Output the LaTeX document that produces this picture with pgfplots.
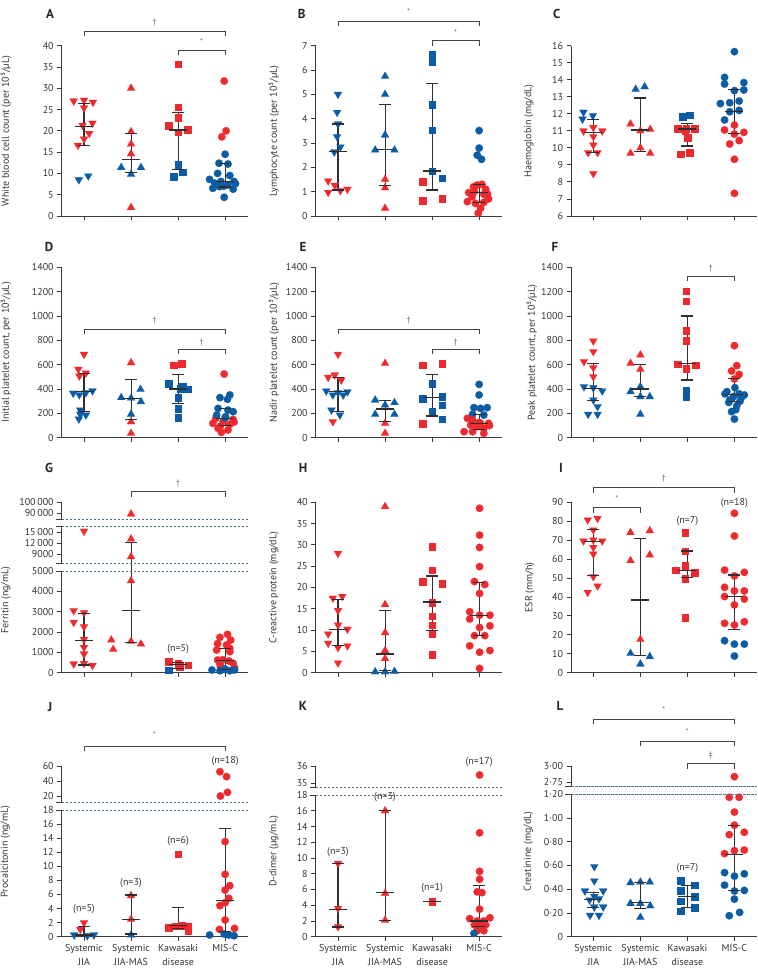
\documentclass[border=0pt]{standalone}
\usepackage{fontspec}
\setmainfont{PT Sans}
\usepackage{pgfplots}
\pgfplotsset{compat=1.18}
\definecolor{myred}{HTML}{EE2A2E}
\definecolor{myblue}{HTML}{0B5CA5}
\definecolor{axc}{HTML}{3A3A3A}
\definecolor{lc}{HTML}{2E2E2E}
\definecolor{dashc}{HTML}{4F7186}
\definecolor{txtc}{HTML}{333333}
\definecolor{sigc}{HTML}{666666}
\definecolor{brc}{HTML}{444444}
\pgfplotsset{
  /pgf/number format/assume math mode=true,
  /pgf/number format/1000 sep={},
  ax/.style={scale only axis, width=186pt, xmin=-0.475, xmax=3.48, clip=false, enlargelimits=false,
    scaled y ticks=false, scaled x ticks=false,
    axis y line*=left, tick align=outside, major tick length=4.5pt,
    tick style={draw=axc, line width=0.9pt}, axis line style={draw=axc, line width=0.9pt},
    yticklabel style={font=\fontsize{10}{12}\selectfont, text=txtc},
    xticklabel style={font=\fontsize{10}{13.5}\selectfont, text=txtc, align=center},
    anchor=south west},
  low/.style={ax, axis x line*=bottom, xtick={0,1,2,3}, xticklabels={,,,}},
  hi/.style={ax, axis x line=none, xtick=\empty},
  rdn/.style={only marks, mark=triangle*, mark size=4.6pt, mark options={rotate=180, fill=myred, draw=myred, line width=0.1pt}},
  bdn/.style={only marks, mark=triangle*, mark size=4.6pt, mark options={rotate=180, fill=myblue, draw=myblue, line width=0.1pt}},
  rup/.style={only marks, mark=triangle*, mark size=4.6pt, mark options={fill=myred, draw=myred, line width=0.1pt}},
  bup/.style={only marks, mark=triangle*, mark size=4.6pt, mark options={fill=myblue, draw=myblue, line width=0.1pt}},
  rsq/.style={only marks, mark=square*, mark size=3.4pt, mark options={fill=myred, draw=myred, line width=0.1pt}},
  bsq/.style={only marks, mark=square*, mark size=3.4pt, mark options={fill=myblue, draw=myblue, line width=0.1pt}},
  rci/.style={only marks, mark=*, mark size=3.8pt, mark options={fill=myred, draw=myred, line width=0.1pt}},
  bci/.style={only marks, mark=*, mark size=3.8pt, mark options={fill=myblue, draw=myblue, line width=0.1pt}},
  vline/.style={color=lc, line width=1.1pt, mark=none},
  cap/.style={only marks, mark=-, mark size=6pt, color=lc, mark options={line width=1.1pt}},
  medm/.style={only marks, mark=-, mark size=9pt, color=lc, mark options={line width=1.1pt}},
}
\newcommand\mi[4]{\addplot[vline] coordinates {(#1,#2) (#1,#4)};\addplot[cap] coordinates {(#1,#2) (#1,#4)};\addplot[medm] coordinates {(#1,#3)};}
\newcommand\brk[5]{\draw[draw=brc, line width=0.9pt] (#1,{968-#3-5.5}) -- (#1,{968-#3}) -- (#2,{968-#3}) -- (#2,{968-#3-5.5});
  \node[font=\fontsize{8}{8}\selectfont, text=sigc] at ({(#1+#2)/2},{968-#4}) {#5};}
\newcommand\dl[3]{\draw[dashc, line width=0.8pt, dash pattern=on 2.5pt off 1.5pt] (#1,{968-#2}) -- ({#1+#3},{968-#2});
  \draw[axc, line width=0.9pt] ({#1-6},{968-#2}) -- (#1,{968-#2});}
\newcommand\yl[3]{\node[rotate=90, font=\fontsize{10}{12}\selectfont, text=txtc] at (#1,{968-#2}) {#3};}
\newcommand\pl[3]{\node[font=\bfseries\fontsize{13}{13}\selectfont, text=black!85] at (#1,{968-#2}) {#3};}
\newcommand\nn[3]{\node[font=\fontsize{10}{12}\selectfont, text=txtc] at (#1,{968-#2}) {#3};}
\begin{document}
\begin{tikzpicture}[x=1pt,y=1pt]
\useasboundingbox (0,0) rectangle (757,968);
% ---------- A
\begin{axis}[low, at={(61.7pt,752pt)}, height=170.3pt, ymin=0, ymax=40, ytick={0,5,...,40}]
\addplot[rdn] coordinates {(-0.22,27.0) (0,27.2) (0.19,26.7) (0,25.4) (0.18,21.8) (-0.03,21.3) (0.11,19.4) (0,18.1) (-0.13,16.6)};
\addplot[bdn] coordinates {(-0.11,8.5) (0.09,9.4)};
\addplot[rup] coordinates {(1,30.0) (1,19.8) (1,16.9) (1,14.6) (1,2.0)};
\addplot[bup] coordinates {(0.79,11.4) (1.21,11.4) (1,9.8)};
\addplot[rsq] coordinates {(2,35.7) (2,25.6) (2,23.1) (1.8,21.3) (2,19.7) (2.2,20.3)};
\addplot[bsq] coordinates {(2,12.1) (1.9,9.2) (2.1,10.3)};
\addplot[rci] coordinates {(2.98,31.7) (3.02,20.0) (2.93,18.6)};
\addplot[bci] coordinates {(3,14.5) (2.87,12.4) (3.06,12.2) (2.84,10.0) (3.1,9.5) (2.67,8.6) (2.78,7.7) (2.91,8.1) (3.19,8.1) (2.74,6.5) (2.88,6.9) (3.06,7.3) (3.17,6.3) (2.98,4.4) (3.22,7.6) (2.97,7.0)};
\mi{0}{16.5}{21.1}{26.4}\mi{1}{10.2}{13.2}{19.4}\mi{2}{11.0}{20.2}{24.3}\mi{3}{6.8}{8.2}{12.4}
\end{axis}
% ---------- B
\begin{axis}[low, at={(315.7pt,752pt)}, height=170.3pt, ymin=0, ymax=7, ytick={0,...,7}]
\addplot[bdn] coordinates {(0,5.0) (-0.02,4.26) (0,3.78) (-0.02,3.26) (0.05,2.84) (-0.08,2.63)};
\addplot[rdn] coordinates {(-0.21,1.44) (-0.07,1.26) (-0.21,0.97) (0.05,1.04) (0.2,1.10)};
\addplot[bup] coordinates {(1,5.74) (1,5.0) (1,3.33) (0.79,2.71) (1.2,2.71)};
\addplot[rup] coordinates {(1,1.51) (1,1.16) (1,0.32)};
\addplot[bsq] coordinates {(2,6.64) (2,6.33) (2,4.59) (2,3.53) (2,1.85) (2.21,1.56)};
\addplot[rsq] coordinates {(1.8,1.41) (1.8,0.63) (2.21,0.73)};
\addplot[bci] coordinates {(3,3.51) (3,2.79) (2.96,2.5) (3.05,2.33)};
\addplot[rci] coordinates {(2.78,0.96) (2.96,1.27) (3.06,1.30) (3.14,1.1) (2.85,0.79) (3.1,0.89) (2.75,0.59) (2.92,0.52) (3.1,0.56) (3.03,0.32) (2.98,0.11) (2.88,1.20) (3.2,0.7) (2.9,1.0) (3.18,0.9)};
\mi{0}{1.07}{2.64}{3.78}\mi{1}{1.27}{2.74}{4.6}\mi{2}{1.07}{1.85}{5.45}\mi{3}{0.56}{0.96}{1.3}
\end{axis}
% ---------- C
\begin{axis}[low, at={(571pt,752pt)}, height=170.3pt, ymin=6, ymax=16, ytick={6,...,16}]
\addplot[bdn] coordinates {(-0.21,12.09) (-0.01,11.89) (-0.23,11.69)};
\addplot[rdn] coordinates {(-0.21,10.99) (0,11.2) (0.19,10.99) (0,10.66) (0,10.17) (-0.11,9.72) (0.09,9.72) (0,8.49)};
\addplot[bup] coordinates {(0.9,13.44) (1.09,13.59)};
\addplot[rup] coordinates {(0.79,11.4) (1,11.0) (1.21,11.09) (1,10.0) (0.79,9.68) (1.21,9.68)};
\addplot[bsq] coordinates {(1.9,11.83) (2.05,11.93)};
\addplot[rsq] coordinates {(1.79,11.15) (1.97,11.15) (2.16,11.15) (2.0,10.6) (1.86,9.64) (2.04,9.72) (1.95,11.0)};
\addplot[bci] coordinates {(3,15.65) (2.79,14.14) (2.79,13.75) (3.2,13.83) (3,13.36) (3.2,13.4) (2.7,12.6) (2.9,12.65) (3.1,12.75) (2.9,12.12) (3.1,12.2) (2.79,11.64)};
\addplot[rci] coordinates {(3,11.34) (2.79,11.05) (3,10.81) (3.2,10.91) (2.9,10.23) (3.1,10.43) (3,9.33) (3,7.33)};
\mi{0}{9.72}{10.91}{11.64}\mi{1}{9.78}{11.05}{12.93}\mi{2}{10.11}{11.11}{11.44}\mi{3}{10.85}{12.13}{13.44}
\end{axis}
% ---------- D
\begin{axis}[low, at={(61.7pt,530.3pt)}, height=170.4pt, ymin=0, ymax=1400, ytick={0,200,...,1400}]
\addplot[rdn] coordinates {(0,685) (-0.12,562) (0.04,531) (-0.1,507)};
\addplot[bdn] coordinates {(-0.23,365) (-0.1,352) (0.04,370) (0.18,385) (-0.08,227) (-0.08,192) (0.04,186) (-0.11,153)};
\addplot[rup] coordinates {(1,616) (1,131) (1,36)};
\addplot[bup] coordinates {(0.79,329) (1.2,397) (1.21,296) (1,192) (1,325)};
\addplot[rsq] coordinates {(1.91,597) (2.08,611)};
\addplot[bsq] coordinates {(1.8,447) (2.05,405) (2.21,400) (2,329) (2,241) (2,164) (2.1,420)};
\addplot[rci] coordinates {(2.98,523) (2.8,159) (3.17,150) (2.96,135) (3.19,128) (2.74,118) (3.1,110) (2.9,95) (2.85,77) (3.06,63) (2.92,44)};
\addplot[bci] coordinates {(3.1,351) (3.05,315) (2.89,329) (2.85,241) (3.06,227) (3.17,214) (2.82,186) (3.01,173) (3.0,162)};
\mi{0}{214}{378}{531}\mi{1}{151}{320}{477}\mi{2}{282}{400}{520}\mi{3}{100}{160}{240}
\end{axis}
% ---------- E
\begin{axis}[low, at={(315.7pt,530.3pt)}, height=170.4pt, ymin=0, ymax=1400, ytick={0,200,...,1400}]
\addplot[rdn] coordinates {(0,685) (-0.21,496) (-0.07,515) (0.07,474) (-0.11,131)};
\addplot[bdn] coordinates {(-0.25,384) (-0.11,351) (0.0,370) (0.11,351) (0.2,377) (-0.14,227) (0.04,186)};
\addplot[rup] coordinates {(1,611) (1,118) (1,36)};
\addplot[bup] coordinates {(0.79,310) (1.0,268) (1.2,288) (0.79,192) (1.2,192)};
\addplot[rsq] coordinates {(1.8,597) (2.21,611) (1.8,118)};
\addplot[bsq] coordinates {(2,447) (1.8,323) (2.21,337) (2.21,268) (2,214) (2.21,153)};
\addplot[bci] coordinates {(3,438) (3,351) (2.89,247) (3.03,241) (3.17,247) (2.86,192) (3.1,186)};
\addplot[rci] coordinates {(2.75,159) (2.86,145) (3.03,118) (3.2,118) (2.96,90) (3.1,77) (2.68,49) (2.86,49) (3.1,36) (2.82,104) (3.0,125) (3.22,100)};
\mi{0}{214}{378}{493}\mi{1}{131}{236}{304}\mi{2}{178}{329}{520}\mi{3}{70}{118}{190}
\end{axis}
% ---------- F
\begin{axis}[low, at={(571pt,530.3pt)}, height=170.4pt, ymin=0, ymax=1400, ytick={0,200,...,1400}]
\addplot[rdn] coordinates {(0,795) (0,707) (-0.2,625) (0,575) (0,501)};
\addplot[bdn] coordinates {(-0.2,419) (0,410) (0.19,384) (0,310) (0.09,255) (-0.11,192) (0.09,192)};
\addplot[rup] coordinates {(0.79,611) (1,680) (1,562)};
\addplot[bup] coordinates {(1,419) (0.79,378) (1,337) (1.2,337) (1,192)};
\addplot[rsq] coordinates {(1.97,1205) (1.97,1123) (1.97,877) (1.97,800) (1.79,605) (1.97,570) (2.18,597)};
\addplot[bsq] coordinates {(1.97,392) (1.97,337)};
\addplot[rci] coordinates {(3,756) (3.05,592) (2.94,548) (3.1,520) (3,482)};
\addplot[bci] coordinates {(3.01,411) (2.84,378) (3.21,351) (2.98,337) (3.1,360) (2.9,310) (3.05,263) (2.94,214) (3,153) (2.8,360) (3.15,330) (2.88,290) (3.12,300) (3.03,230)};
\mi{0}{304}{405}{611}\mi{1}{337}{400}{600}\mi{2}{474}{611}{1000}\mi{3}{300}{355}{487}
\end{axis}
% ---------- G (broken)
\begin{axis}[low, at={(61.7pt,295.3pt)}, height=101.7pt, ymin=0, ymax=5000, ytick={0,1000,...,5000}]
\addplot[rdn] coordinates {(-0.22,3050) (0,2950) (-0.22,2475) (0,2262) (0,1639) (0,1246) (0,918) (-0.22,426) (0,459) (0.18,360)};
\addplot[rup] coordinates {(1,4524) (0.58,1606) (0.62,1147) (1,1541) (1.21,1410)};
\addplot[rsq] coordinates {(1.8,541) (2,459) (2.21,377) (2.03,295)};
\addplot[bsq] coordinates {(1.8,131)};
\addplot[rci] coordinates {(3.05,1885) (2.89,1737) (3.12,1606) (2.84,1426) (3.03,1360) (2.82,1115) (3.1,1196) (3.1,1033) (2.84,623) (3.08,574) (2.89,426) (3.17,459) (2.95,640) (2.9,300) (3.2,250)};
\addplot[bci] coordinates {(2.72,131) (2.89,98) (3.1,98) (3.2,131) (3.0,180)};
\mi{0}{377}{1573}{2901}\mi{2}{200}{410}{500}\mi{3}{170}{606}{1196}
\addplot[vline] coordinates {(1,1491) (1,5381)};
\addplot[cap] coordinates {(1,1491)};
\addplot[medm] coordinates {(1,3065)};
\end{axis}
\begin{axis}[hi, at={(61.7pt,404.7pt)}, height=37pt, ymin=6545, ymax=16636, ytick={9000,12000,15000}, yticklabels={9000,12\,000,15\,000}]
\addplot[rdn] coordinates {(0,15300)};
\addplot[rup] coordinates {(1,13170) (1,8350)};
\addplot[vline] coordinates {(1,6545) (1,12270)};
\addplot[cap] coordinates {(1,12270)};
\end{axis}
\begin{axis}[hi, at={(61.7pt,448.7pt)}, height=17pt, ymin=84545, ymax=100000, ytick={90000,100000}, yticklabels={90\,000,100\,000}]
\addplot[rup] coordinates {(1,89400)};
\end{axis}
% ---------- H
\begin{axis}[low, at={(315.7pt,295.3pt)}, height=170.4pt, ymin=0, ymax=40, ytick={0,5,...,40}]
\addplot[rdn] coordinates {(0,28.0) (-0.11,17.5) (0.09,17.9) (0,14.6) (0,11.2) (-0.21,9.1) (0.2,10.2) (-0.21,6.9) (0,5.9) (0.2,6.3) (0,2.3)};
\addplot[rup] coordinates {(1,39.0) (1,16.0) (1,9.4) (1,5.2) (1,3.3)};
\addplot[bup] coordinates {(0.79,0.2) (1,0.2) (1.2,0.3)};
\addplot[rsq] coordinates {(2,29.6) (2,24.1) (1.8,21.4) (2.21,21.0) (2,16.5) (2,13.3) (2,11.2) (2,9.1) (2,4.2)};
\addplot[rci] coordinates {(3.01,38.6) (3.01,32.3) (3.01,29.4) (3.01,24.9) (2.9,21.4) (3.12,20.7) (3.01,18.6) (2.8,14.3) (2.8,12.6) (3.01,13.5) (3.23,13.5) (3.01,10.6) (3.23,11.0) (2.9,8.7) (3.12,8.7) (2.8,6.3) (3.01,4.8) (3.23,5.2) (3.01,1.0)};
\mi{0}{6.3}{10.2}{17.1}\mi{1}{0.5}{4.4}{14.5}\mi{2}{10.0}{16.6}{22.7}\mi{3}{8.7}{13.5}{21.1}
\end{axis}
% ---------- I
\begin{axis}[low, at={(571pt,295.3pt)}, height=170.4pt, ymin=0, ymax=90, ytick={0,10,...,90}]
\addplot[rdn] coordinates {(-0.12,80.7) (0.09,81.5) (0,75.4) (0,70.1) (-0.21,69.6) (0.19,69.6) (0,66.2) (0,62.7) (0,50.7) (0.09,45.8) (-0.12,42.4)};
\addplot[rup] coordinates {(0.79,74.0) (1.2,75.0) (0.79,59.2) (1.2,62.2) (1,17.6)};
\addplot[bup] coordinates {(0.79,10.2) (1.2,8.5) (1,4.6)};
\addplot[rsq] coordinates {(1.95,74.0) (1.95,64.3) (1.95,56.4) (1.75,54.2) (2.16,53.0) (1.95,49.8) (1.95,29.1)};
\addplot[rci] coordinates {(3,84.2) (3,72.2) (2.79,54.2) (3.21,53.0) (3,51.1) (2.79,45.1) (3,43.2) (3.21,43.2) (2.79,40.2) (3.21,38.9) (3,35.8) (2.79,26.1) (3.21,26.9) (3,25.2)};
\addplot[bci] coordinates {(2.79,16.9) (3,15.1) (3.21,15.1) (3,8.8)};
\mi{0}{51.1}{69.2}{75.4}\mi{1}{9.3}{38.4}{71.0}\mi{2}{50.2}{54.2}{64.3}\mi{3}{22.9}{40.2}{51.6}
\end{axis}
% ---------- J (broken)
\begin{axis}[low, at={(61.7pt,31.3pt)}, height=126.7pt, ymin=0, ymax=18, ytick={0,2,...,18},
  xticklabels={Systemic\\JIA, Systemic\\JIA-MAS, Kawasaki\\disease, MIS-C}]
\addplot[rdn] coordinates {(0,1.99) (-0.08,1.04)};
\addplot[bdn] coordinates {(-0.21,0.24) (0.07,0.14) (0.21,0.24)};
\addplot[rup] coordinates {(1,5.83) (1,2.46)};
\addplot[bup] coordinates {(1,0.24)};
\addplot[rsq] coordinates {(2,11.75) (1.8,1.28) (1.95,1.5) (2.08,1.6) (2.21,1.5) (2.21,0.85)};
\addplot[rci] coordinates {(3,13.5) (3,8.86) (3,6.63) (3.1,7.25) (3.08,5.45) (2.89,4.41) (3,4.83) (3,2.37) (2.88,1.04) (3.2,1.18)};
\addplot[bci] coordinates {(2.67,0.24) (2.98,0.38) (3.08,0.24) (3.19,0.14)};
\mi{0}{0.14}{0.24}{1.42}\mi{1}{0.38}{2.46}{5.92}\mi{2}{1.2}{1.56}{4.17}\mi{3}{0.8}{5.14}{15.4}
\end{axis}
\begin{axis}[hi, at={(61.7pt,165.3pt)}, height=36.7pt, ymin=11.1, ymax=60, ytick={20,40,60}]
\addplot[rci] coordinates {(2.89,52.4) (3.03,45.8) (2.9,20.0) (3.05,24.9)};
\end{axis}
% ---------- K (broken)
\begin{axis}[low, at={(315.7pt,31.3pt)}, height=141.7pt, ymin=0, ymax=18, ytick={0,2,...,18},
  xticklabels={Systemic\\JIA, Systemic\\JIA-MAS, Kawasaki\\disease, MIS-C}]
\addplot[rdn] coordinates {(0,9.32) (0,3.6) (0,1.27)};
\addplot[rup] coordinates {(1,16.0) (1,5.5) (1,2.1)};
\addplot[rsq] coordinates {(2,4.45)};
\addplot[rci] coordinates {(3.01,13.2) (3.01,8.3) (3.01,7.3) (2.96,5.7) (3.06,5.6) (3.01,3.5) (2.8,2.3) (2.96,2.0) (3.1,2.0) (3.23,2.4) (2.9,1.5) (3.03,1.3) (3.14,1.5) (2.96,0.76) (3.1,0.76)};
\addplot[bci] coordinates {(2.89,0.42)};
\mi{0}{1.23}{3.5}{9.32}\mi{1}{2.1}{5.6}{16.0}\mi{3}{1.27}{2.0}{6.5}
\addplot[medm] coordinates {(2,4.45)};
\end{axis}
\begin{axis}[hi, at={(315.7pt,180.7pt)}, height=21.3pt, ymin=34.77, ymax=36, ytick={35,36}]
\addplot[rci] coordinates {(3.01,35.48)};
\end{axis}
% ---------- L (broken)
\begin{axis}[low, at={(571pt,31.3pt)}, height=142.4pt, ymin=0, ymax=1.2, ytick={0,0.2,0.4,0.6,0.8,1.0,1.2},
  yticklabels={0,0·20,0·40,0·60,0·80,1·00,1·20},
  xticklabels={Systemic\\JIA, Systemic\\JIA-MAS, Kawasaki\\disease, MIS-C}]
\addplot[bdn] coordinates {(0.02,0.59) (0.02,0.47) (-0.18,0.385) (0.21,0.385) (0.02,0.34) (-0.08,0.31) (0.12,0.32) (0.02,0.25) (0.21,0.25) (-0.07,0.18) (0.12,0.18)};
\addplot[bup] coordinates {(0.79,0.455) (1,0.46) (1.2,0.46) (0.79,0.28) (1.0,0.28) (1.21,0.26) (1,0.163)};
\addplot[bsq] coordinates {(1.86,0.47) (2.16,0.435) (1.86,0.39) (2.16,0.34) (1.86,0.30) (2.16,0.245) (1.86,0.216)};
\addplot[rci] coordinates {(2.89,1.175) (3.1,1.175) (3,1.05) (3,0.94) (2.89,0.86) (3.21,0.88) (2.79,0.70) (3,0.725) (3.21,0.73)};
\addplot[bci] coordinates {(2.79,0.54) (3,0.51) (3.21,0.53) (2.79,0.435) (3,0.385) (3.21,0.39) (3,0.317) (3.11,0.205) (2.89,0.177)};
\mi{0}{0.245}{0.315}{0.374}\mi{1}{0.236}{0.29}{0.46}\mi{2}{0.245}{0.34}{0.43}\mi{3}{0.39}{0.69}{0.94}
\end{axis}
\begin{axis}[hi, at={(571pt,181.3pt)}, height=20.7pt, ymin=2.683, ymax=3.0, ytick={2.75,3}, yticklabels={2·75,3·00}]
\addplot[rci] coordinates {(3,2.836)};
\end{axis}
% ---------- break lines
\dl{61.7}{519.3}{186}\dl{61.7}{526.3}{186}\dl{61.7}{563.3}{186}\dl{61.7}{571}{186}
\dl{61.7}{802.7}{186}\dl{61.7}{810}{186}
\dl{315.7}{787.3}{186}\dl{315.7}{795}{186}
\dl{571}{786.7}{186}\dl{571}{794.3}{186}
% ---------- brackets
\brk{84}{225.1}{31}{22.7}{†}\brk{178.1}{225.1}{50}{41.7}{*}
\brk{338}{479.1}{21}{11.7}{*}\brk{432.1}{479.1}{40.7}{32.7}{*}
\brk{84}{225.1}{329}{321}{†}\brk{178.1}{225.1}{349}{342.3}{†}
\brk{338}{479.1}{329}{321}{†}\brk{432.1}{479.1}{349}{342.3}{†}
\brk{687.4}{734.4}{276}{268.3}{†}
\brk{131}{225.1}{491.7}{483.3}{†}
\brk{593.3}{734.4}{487.7}{478.3}{†}\brk{593.3}{640.3}{507.3}{498.3}{*}
\brk{84}{225.1}{746}{734.3}{*}
\brk{593.3}{734.4}{719}{709.3}{*}\brk{640.3}{734.4}{741}{731.7}{*}\brk{687.4}{734.4}{763.3}{756}{‡}
% ---------- n labels
\nn{178.1}{649.3}{(n=5)}
\nn{687.4}{521}{(n=7)}\nn{734.4}{502.7}{(n=18)}
\nn{84}{909.3}{(n=5)}\nn{131}{882.7}{(n=3)}\nn{178.1}{840.7}{(n=6)}\nn{225.1}{761}{(n=18)}
\nn{338}{851.7}{(n=3)}\nn{385}{797}{(n=3)}\nn{432.1}{888.3}{(n=1)}\nn{479.1}{761.7}{(n=17)}
\nn{687.4}{868.3}{(n=7)}
% ---------- y labels
\yl{6}{131}{White blood cell count (per 10³/µL)}
\yl{274}{131}{Lymphocyte count (per 10³/µL)}
\yl{529}{131}{Haemoglobin (mg/dL)}
\yl{6}{352.5}{Initial platelet count, per 10³/µL)}
\yl{274}{352.5}{Nadir platelet count (per 10³/µL)}
\yl{532}{352.5}{Peak platelet count, per 10³/µL)}
\yl{6}{600}{Ferritin (ng/mL)}
\yl{274}{587.5}{C-reactive protein (mg/dL)}
\yl{530}{587.5}{ESR (mm/h)}
\yl{5.5}{851.4}{Procalcitonin (ng/mL)}
\yl{274}{851.4}{D-dimer (µg/mL)}
\yl{528.5}{851.4}{Creatinine (mg/dL)}
% ---------- panel letters
\pl{50}{14}{A}\pl{301.7}{14}{B}\pl{556.7}{14}{C}
\pl{49}{247.3}{D}\pl{303}{247.3}{E}\pl{555}{247.3}{F}
\pl{49}{468}{G}\pl{303}{468.3}{H}\pl{561}{468}{I}
\pl{50}{706.7}{J}\pl{303}{706}{K}\pl{560}{706}{L}
\end{tikzpicture}
\end{document}
